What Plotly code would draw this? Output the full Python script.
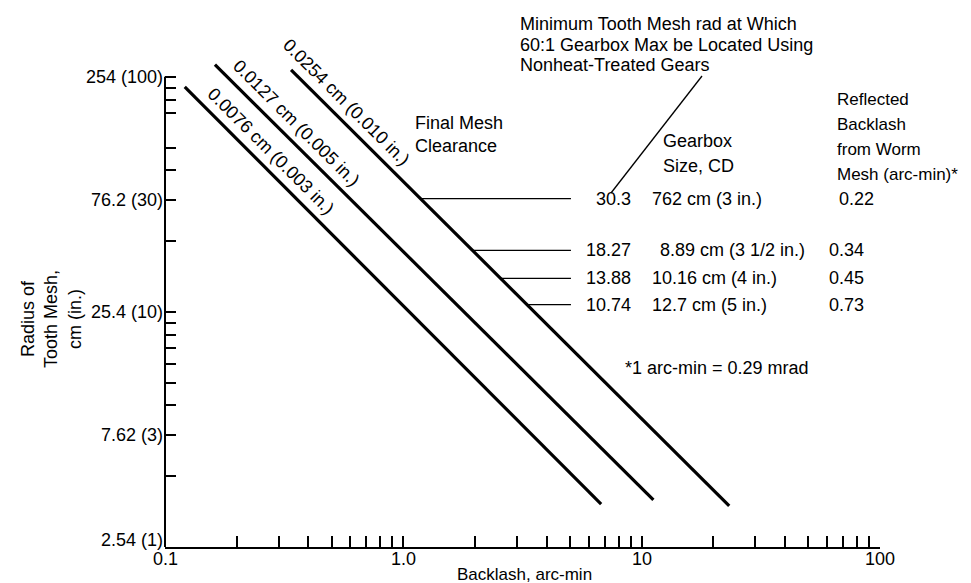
import numpy as np
import plotly.graph_objects as go

# ---------------- data ----------------
clearance_labels = ["0.0076 cm (0.003 in.)", "0.0127 cm (0.005 in.)", "0.0254 cm (0.010 in.)"]
line_backlash_start = [0.121, 0.162, 0.338]
line_backlash_end = [6.76, 11.2, 23.3]
line_radius_start = [230.0, 286.0, 272.0]
line_radius_end = [3.87, 4.03, 3.80]
label_frac = [0.18, 0.16, 0.10]

min_mesh_in = [30.3, 18.27, 13.88, 10.74]
min_mesh_text = ["30.3", "18.27", "13.88", "10.74"]
gearbox_size = ["762 cm (3 in.)", "8.89 cm (3 1/2 in.)", "10.16 cm (4 in.)", "12.7 cm (5 in.)"]
reflected_backlash = ["0.22", "0.34", "0.45", "0.73"]
row_line_end_backlash = 5.05

y_tick_in = [100, 30, 10, 3, 1]
y_tick_text = ["254 (100)", "76.2 (30)", "25.4 (10)", "7.62 (3)", "2.54 (1)"]
y_minor_in = [90, 80, 70, 50, 40, 20, 9, 8, 7, 6, 5, 4, 2]
x_tick_vals = [0.1, 1, 10, 100]
x_tick_text = ["0.1", "1.0", "10", "100"]
x_minor = [0.2, 0.3, 0.4, 0.5, 0.6, 0.7, 0.8, 0.9,
           2, 3, 4, 5, 6, 7, 8, 9,
           20, 30, 40, 50, 60, 70, 80, 90]

CM_PER_IN = 2.54
FONT = "Liberation Sans, Arial, sans-serif"
FS = 18

# ---------------- layout geometry ----------------
W, H = 971, 583
ML, MR, MT, MB = 157, 99, 50, 44
PW, PH = W - ML - MR, H - MT - MB
YLO, YHI = np.log10(2.54), np.log10(254) + 0.08


def px(x):
    return (x - ML) / PW


def py(y):
    return (H - MB - y) / PH


fig = go.Figure()

# clearance lines
for i in range(3):
    fig.add_trace(go.Scatter(
        x=[line_backlash_start[i], line_backlash_end[i]],
        y=[line_radius_start[i], line_radius_end[i]],
        mode="lines", line=dict(color="black", width=3.2),
        hoverinfo="skip", showlegend=False))

# horizontal leader lines from the 0.0254 cm line to the table
lx0, lx1 = np.log10(line_backlash_start[2]), np.log10(line_backlash_end[2])
ly0, ly1 = np.log10(line_radius_start[2]), np.log10(line_radius_end[2])
for v in min_mesh_in:
    ly = np.log10(v * CM_PER_IN)
    lx = lx0 + (ly - ly0) / (ly1 - ly0) * (lx1 - lx0)
    fig.add_trace(go.Scatter(
        x=[10 ** lx, row_line_end_backlash], y=[v * CM_PER_IN, v * CM_PER_IN],
        mode="lines", line=dict(color="black", width=1.3),
        hoverinfo="skip", showlegend=False))

ann = []


def text(x, y, s, xanchor="left", xref="paper", yref="paper", size=FS, **kw):
    ann.append(dict(x=x, y=y, xref=xref, yref=yref, text=s, showarrow=False,
                    xanchor=xanchor, yanchor="middle", borderpad=0,
                    font=dict(family=FONT, size=size, color="black"), **kw))


# rotated labels along clearance lines
for i in range(3):
    f = label_frac[i]
    lxs, lxe = np.log10(line_backlash_start[i]), np.log10(line_backlash_end[i])
    lys, lye = np.log10(line_radius_start[i]), np.log10(line_radius_end[i])
    ann.append(dict(x=lxs + f * (lxe - lxs), y=lys + f * (lye - lys), xref="x", yref="y",
                    text=clearance_labels[i], showarrow=False, textangle=45,
                    xshift=11, yshift=11, xanchor="center", yanchor="middle",
                    font=dict(family=FONT, size=FS, color="black")))

# y tick labels
for v, t in zip(y_tick_in, y_tick_text):
    text(0, np.log10(v * CM_PER_IN), t, xanchor="right", yref="y", xshift=-1,
         yshift=7 if v == 1 else 0)
# x tick labels
for v, t in zip(x_tick_vals, x_tick_text):
    text(np.log10(v), 0, t, xanchor="center", xref="x", yshift=-12)

# axis titles
text(px(516), py(566), "Backlash, arc-min", xanchor="center", size=17)
ann.append(dict(x=px(43), y=py(311), xref="paper", yref="paper",
                text="Radius of<br>Tooth Mesh,<br>cm (in.)", showarrow=False,
                textangle=-90, xanchor="center", yanchor="middle", align="center",
                font=dict(family=FONT, size=FS, color="black")))

# header texts
for s, yy in zip(["Minimum Tooth Mesh rad at Which", "60:1 Gearbox Max be Located Using",
                  "Nonheat-Treated Gears"], [16, 37, 57]):
    text(px(511), py(yy), s)
for s, yy in zip(["Final Mesh", "Clearance"], [115, 138]):
    text(px(406), py(yy), s)
for s, yy in zip(["Gearbox", "Size, CD"], [133, 158]):
    text(px(654), py(yy), s)
for s, yy in zip(["Reflected", "Backlash", "from Worm", "Mesh (arc-min)*"], [91, 117, 142, 167]):
    text(px(828), py(yy), s, size=17)

# table rows
for k, (v, a, b, c) in enumerate(zip(min_mesh_in, min_mesh_text, gearbox_size, reflected_backlash)):
    yv = np.log10(v * CM_PER_IN)
    text(px(624), yv, a, xanchor="right", yref="y")
    text(px(651 if k == 1 else 643), yv, b, yref="y")
    text(px(830 if k == 0 else 820), yv, c, yref="y")

text(px(616), py(360), "*1 arc-min = 0.29 mrad")

shapes = [
    # y axis line from 2.54 to 254
    dict(type="line", xref="paper", yref="paper", x0=0, x1=0,
         y0=0, y1=(np.log10(254) - YLO) / (YHI - YLO), line=dict(color="black", width=2)),
    # pointer from note to table
    dict(type="line", xref="paper", yref="paper", x0=px(694), y0=py(68), x1=px(603), y1=py(185),
         line=dict(color="black", width=1.3)),
]

fig.update_layout(
    width=W, height=H, margin=dict(l=ML, r=MR, t=MT, b=MB),
    paper_bgcolor="white", plot_bgcolor="white",
    annotations=ann, shapes=shapes, showlegend=False,
    xaxis=dict(type="log", range=[-1, 2], showgrid=False, zeroline=False,
               showline=True, linecolor="black", linewidth=2,
               tickvals=x_tick_vals + x_minor, ticks="inside", ticklen=11,
               tickwidth=1.5, tickcolor="black", showticklabels=False),
    yaxis=dict(type="log", range=[YLO, YHI], showgrid=False, zeroline=False,
               showline=False,
               tickvals=[v * CM_PER_IN for v in y_tick_in + y_minor_in],
               ticks="inside", ticklen=11, tickwidth=1.5, tickcolor="black",
               showticklabels=False),
)

fig.write_html("out.html")
